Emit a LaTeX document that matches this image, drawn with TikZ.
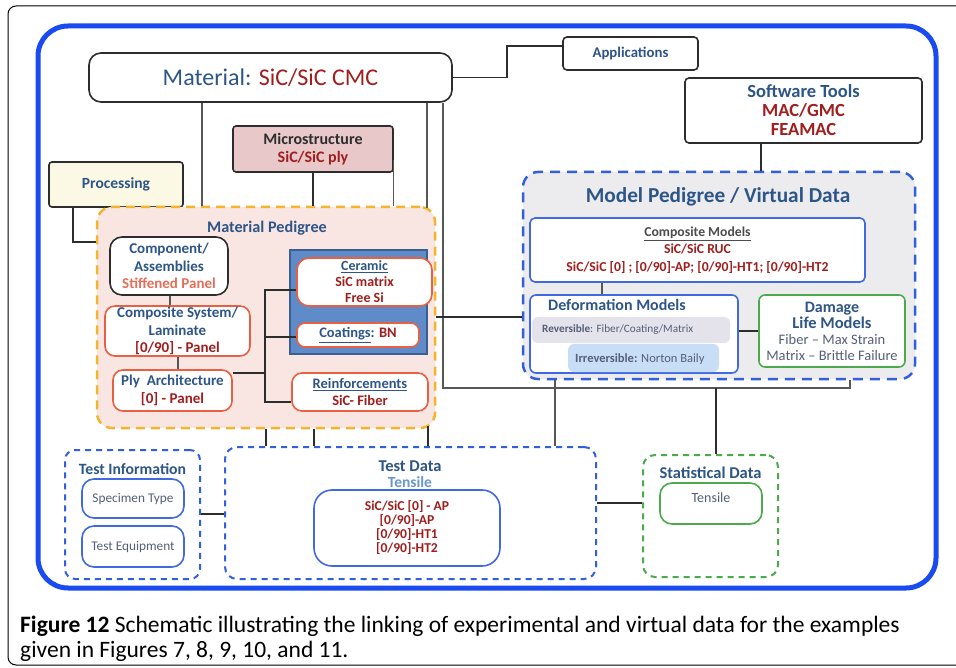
\documentclass[tikz,border=0pt]{standalone}
\usepackage{fontspec}
\setmainfont{Carlito}
\usetikzlibrary{calc}
\definecolor{tblue}{RGB}{45,85,135}
\definecolor{tred}{RGB}{160,30,30}
\definecolor{tsalmon}{RGB}{228,110,90}
\definecolor{tgray}{RGB}{85,95,120}
\definecolor{tlblue}{RGB}{105,150,210}
\definecolor{bigblue}{RGB}{25,75,240}
\definecolor{dblue}{RGB}{50,95,220}
\definecolor{bblue}{RGB}{65,105,225}
\definecolor{bred}{RGB}{232,95,65}
\definecolor{bgreen}{RGB}{75,170,75}
\definecolor{borange}{RGB}{245,180,45}
\definecolor{pedfill}{RGB}{249,230,226}
\definecolor{mpfill}{RGB}{236,236,238}
\definecolor{microfill}{RGB}{232,200,200}
\definecolor{procfill}{RGB}{251,248,228}
\definecolor{steel}{RGB}{95,140,200}
\definecolor{steeldark}{RGB}{60,95,145}
\definecolor{revfill}{RGB}{228,226,234}
\definecolor{irrfill}{RGB}{200,222,246}
\definecolor{lnk}{RGB}{45,45,45}
\tikzset{
  wh/.style 2 args={minimum width=#1pt, minimum height=#2pt},
  box/.style={draw=#1, line width=1.6pt, fill=white, inner sep=0pt, align=center},
  redbox/.style={box=bred, rounded corners=10pt},
  bluebox/.style={box=bblue, rounded corners=6pt},
  greenbox/.style={box=bgreen, rounded corners=6pt},
  blackbox/.style={box=lnk, rounded corners=4pt},
  link/.style={draw=lnk, line width=1.4pt},
  thinlink/.style={draw=lnk!80, line width=1.1pt},
}
\begin{document}
\begin{tikzpicture}[x=1pt,y=-1pt]
\useasboundingbox (0,0) rectangle (956,668);
\fill[white] (0,0) rectangle (956,668);
% outer frame
\draw[line width=1pt, rounded corners=8pt] (8,6) rectangle (975,665);
% big blue frame
\draw[bigblue, line width=5pt, rounded corners=30pt] (38,26) rectangle (936,588);

% top level
\node[blackbox, rounded corners=12pt, wh={363}{49}] (mat) at (270.5,77.5)
  {\fontsize{24}{26}\selectfont\color{tblue}Material: \color{tred}SiC/SiC CMC};
\node[blackbox, wh={135}{33}, font=\fontsize{14.8}{16}\selectfont\bfseries\color{tblue}] (app) at (630.5,53.5) {Applications};
\node[blackbox, wh={237}{65}, font=\fontsize{18.5}{19}\selectfont\bfseries] (sw) at (803.5,110.5)
  {\color{tblue}Software Tools\\\color{tred}MAC/GMC\\\color{tred}FEAMAC};
\node[box=lnk, rounded corners=3pt, fill=microfill, wh={160}{46}, font=\fontsize{16}{18}\selectfont\bfseries] (micro) at (313,149)
  {\color{lnk}Microstructure\\\color{tred}SiC/SiC ply};
\node[box=lnk, rounded corners=3pt, fill=procfill, wh={134}{45}, font=\fontsize{15.5}{17}\selectfont\bfseries\color{tblue}] (proc) at (116,184.5) {Processing};

% material pedigree
\node[draw=borange, line width=2.5pt, dash pattern=on 9pt off 6pt, fill=pedfill, rounded corners=15pt, wh={338}{221}] (ped) at (266,317.5) {};
\node[font=\fontsize{16.2}{18}\selectfont\bfseries\color{tblue}] (pedt) at (267,228) {Material Pedigree};
\node[box=lnk, rounded corners=12pt, wh={118}{58}, font=\fontsize{15}{17.5}\selectfont\bfseries] (comp) at (169,266)
  {\color{tblue}Component/\\\color{tblue}Assemblies\\\color{tsalmon}Stiffened Panel};
\node[redbox, wh={145}{50}, font=\fontsize{15}{17.5}\selectfont\bfseries] (cs) at (177.5,331)
  {\color{tblue}Composite System/\\\color{tblue}Laminate\\\color{tred}[0/90] - Panel};
\node[redbox, wh={119}{41}, font=\fontsize{15}{17.5}\selectfont\bfseries] (ply) at (172.5,390.5)
  {\color{tblue}Ply\ \ Architecture\\\color{tred}[0] - Panel};
\node[draw=steeldark, line width=1.2pt, fill=steel, wh={137}{104}] (bg) at (358.5,302) {};
\node[redbox, rounded corners=12pt, wh={135}{48}, font=\fontsize{14}{16}\selectfont\bfseries] (cer) at (364.5,282)
  {\color{tblue}\underline{Ceramic}\\\color{tred}SiC matrix\\\color{tred}Free Si};
\node[redbox, rounded corners=8pt, wh={122}{24}, font=\fontsize{14.5}{16}\selectfont\bfseries] (coat) at (358,335)
  {\color{tblue}\underline{Coatings}: \color{tred}BN};
\node[redbox, wh={136}{38}, font=\fontsize{14.5}{17}\selectfont\bfseries] (reinf) at (360,392)
  {\color{tblue}\underline{Reinforcements}\\\color{tred}SiC- Fiber};

% model pedigree
\node[draw=dblue, line width=2.5pt, dash pattern=on 10pt off 7pt, fill=mpfill, rounded corners=15pt, wh={392}{207}] (mp) at (719,275.5) {};
\node[font=\fontsize{21.3}{23}\selectfont\bfseries\color{tblue}] (mpt) at (718,197) {Model Pedigree / Virtual Data};
\node[bluebox, rounded corners=5pt, wh={335}{64}, font=\fontsize{13.7}{17.5}\selectfont\bfseries] (cm) at (697.5,250)
  {\color{lnk!85}\underline{Composite Models}\\\color{tred}SiC/SiC RUC\\\color{tred}SiC/SiC [0] ; [0/90]-AP; [0/90]-HT1; [0/90]-HT2};
\node[bluebox, wh={208}{78}] (def) at (634,334) {};
\node[anchor=west, inner sep=0pt, font=\fontsize{16}{18}\selectfont\bfseries\color{tblue}] (deft) at (548,305) {Deformation Models};
\node[fill=revfill, rounded corners=6pt, wh={198}{26}] (rev) at (631,330) {};
\node[anchor=west, inner sep=0pt, font=\fontsize{11.2}{13}\selectfont\color{tgray}] (revt) at (542,330) {\textbf{Reversible}: Fiber/Coating/Matrix};
\node[fill=irrfill, rounded corners=6pt, wh={151}{28}] (irr) at (643.5,358) {};
\node[anchor=west, inner sep=0pt, font=\fontsize{12.5}{14}\selectfont\color{tgray}] (irrt) at (575,359) {\textbf{Irreversible:} Norton Baily};
\node[greenbox, wh={146}{72}, font=\fontsize{14.5}{16}\selectfont\color{tgray}] (dam) at (832,331)
  {{\fontsize{16}{16}\selectfont\bfseries\color{tblue}Damage}\\[0pt]{\fontsize{16.5}{17}\selectfont\bfseries\color{tblue}Life Models}\\Fiber -- Max Strain\\Matrix -- Brittle Failure};

% bottom containers
\node[draw=dblue, line width=2pt, dash pattern=on 6pt off 5pt, fill=white, rounded corners=10pt, wh={135}{129}] (ti) at (132.5,514.5) {};
\node[font=\fontsize{15.7}{17}\selectfont\bfseries\color{tblue}] (tit) at (132.5,469) {Test Information};
\node[bluebox, rounded corners=12pt, wh={102}{39}, font=\fontsize{13.3}{15}\selectfont\color{tgray}] (spec) at (133,498.5) {Specimen Type};
\node[bluebox, rounded corners=12pt, wh={102}{41}, font=\fontsize{13.3}{15}\selectfont\color{tgray}] (equip) at (133,546.5) {Test Equipment};

\node[draw=dblue, line width=2pt, dash pattern=on 6pt off 5pt, fill=white, rounded corners=12pt, wh={371}{132}] (td) at (410.5,513) {};
\node[font=\fontsize{16.5}{18}\selectfont\bfseries\color{tblue}] (tdt) at (410,466) {Test Data};
\node[font=\fontsize{15.5}{17}\selectfont\bfseries\color{tlblue}] (tdt2) at (410,482) {Tensile};
\node[bluebox, rounded corners=18pt, wh={186}{76}, font=\fontsize{13.6}{14}\selectfont\bfseries\color{tred}] (tdi) at (407,528)
  {SiC/SiC [0] - AP\\{}[0/90]-AP\\{}[0/90]-HT1\\{}[0/90]-HT2};

\node[draw=bgreen, line width=2pt, dash pattern=on 6pt off 5pt, fill=white, rounded corners=12pt, wh={135}{122}] (stat) at (710.5,516) {};
\node[font=\fontsize{16.5}{18}\selectfont\bfseries\color{tblue}] (statt) at (710.5,473) {Statistical Data};
\node[greenbox, rounded corners=12pt, wh={102}{41}] (stin) at (711,503.5) {};
\node[font=\fontsize{14}{15}\selectfont\color{tgray}] (stint) at (711,498) {Tensile};

% connectors
\draw[link] (mat.east) -- (507,77.5) |- (app.west |- 0,46);
\draw[thinlink] (mat.south -| 202,0) -- (ped.north -| 202,0);
\draw[thinlink] (mat.south -| 427,0) -- (427,208);
\draw[thinlink] (mat.south -| 443,0) -- (443,388) -| (mp.south -| 850,0);
\coordinate (j1) at (716,388);
\draw[link] (j1) -- (stat.north -| j1);
\draw[link] (micro.south) -- (ped.north -| micro.south);
\draw[thinlink] (micro.east |- 0,160) -- (ped.north -| micro.east);
\draw[link] (proc.south -| 73,0) |- (ped.west |- 0,242);
\draw[link] (sw.south -| 761,0) -- (mp.north -| 761,0);
\draw[thinlink] (comp.south -| 170,0) -- (cs.north -| 170,0);
\draw[thinlink] (cs.south -| 178,0) -- (ply.north -| 178,0);
\draw[link] (ply.east |- 0,373) -- (265,373);
\draw[link] (cer.west |- 0,290) -| (265,402) -- (reinf.west |- 0,402);
\draw[link] (265,337) -- (coat.west |- 0,337);
\draw[link] (ped.east |- 0,317) -- (mp.west |- 0,317);
\draw[thinlink] (cm.south -| 602,0) -- (def.north -| 602,0);
\draw[link] (def.east |- 0,331) -- (dam.west |- 0,331);
\draw[thinlink] (mp.south -| 555,0) -- (td.north -| 555,0);
\draw[link] (ped.south -| 266,0) -- (td.north -| 266,0);
\draw[link] (ped.south -| 314,0) -- (td.north -| 314,0);
\draw[link] (428,426) -- (td.north -| 428,0);
\draw[link] (ti.east |- 0,514) -- (td.west |- 0,514);
\draw[link] (td.east |- 0,503) -- (stat.west |- 0,503);

% caption
\node[anchor=base west, inner sep=0pt, font=\fontsize{23.5}{25}\selectfont] (cap1) at (20,632)
  {\textbf{Figure 12} Schematic illustrating the linking of experimental and virtual data for the examples};
\node[anchor=base west, inner sep=0pt, font=\fontsize{23.5}{25}\selectfont] (cap2) at (20,657)
  {given in Figures 7, 8, 9, 10, and 11.};
\end{tikzpicture}
\end{document}
